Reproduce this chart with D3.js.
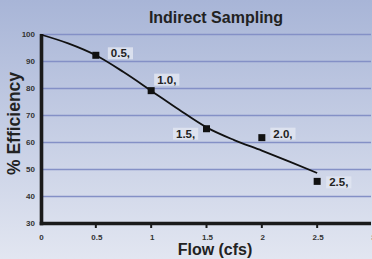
<!DOCTYPE html>
<html>
<head>
<meta charset="utf-8">
<script src="https://cdn.jsdelivr.net/npm/d3@7"></script>
<style>
  body { margin: 0; }
  svg { display: block; font-family: "Liberation Sans", Arial, sans-serif; }
</style>
</head>
<body>
<svg id="chart" width="372" height="259"></svg>
<script>
// sampled points
const flows = [0.5, 1.0, 1.5, 2.0, 2.5];
const efficiency = [92.3, 79.2, 65.1, 61.8, 45.6];
const pointLabels = ["0.5,", "1.0,", "1.5,", "2.0,", "2.5,"];

// trend curve
const curveFlow = [0, 0.25, 0.5, 0.75, 1, 1.25, 1.5, 1.75, 2, 2.25, 2.5];
const curveEff = [100, 96.7, 92.3, 86.1, 79.2, 72.2, 65.6, 60.9, 57, 52.9, 48.7];

const xTicks = [0, 0.5, 1, 1.5, 2, 2.5, 3];
const yTicks = [30, 40, 50, 60, 70, 80, 90, 100];

// label offsets from the marker (dx, dy of text baseline)
const labelOffsets = [[15, 2], [6, -7], [-30.5, 9], [11.5, 0], [12, 5]];

const width = 372, height = 259;
const svg = d3.select("#chart");

const defs = svg.append("defs");
const grad = defs.append("linearGradient")
  .attr("id", "bg").attr("x1", 0).attr("y1", 0).attr("x2", 0).attr("y2", 1);
grad.append("stop").attr("offset", "0%").attr("stop-color", "#a8b5d7");
grad.append("stop").attr("offset", "100%").attr("stop-color", "#e2e6f1");

svg.append("rect").attr("width", width).attr("height", height).attr("fill", "url(#bg)");

const x = d3.scaleLinear().domain([0, 3]).range([40.5, 372.5]);
const y = d3.scaleLinear().domain([30, 100]).range([223.5, 34.5]);

// gridlines
svg.append("g")
  .selectAll("line")
  .data(yTicks.filter(d => d > 30))
  .join("line")
  .attr("x1", x(0) + 2).attr("x2", 371)
  .attr("y1", d => y(d)).attr("y2", d => y(d))
  .attr("stroke", "#8490c6")
  .attr("stroke-width", 1.6);

// y tick labels
svg.append("g")
  .selectAll("text")
  .data(yTicks)
  .join("text")
  .attr("x", 35)
  .attr("y", d => y(d) + 2.5)
  .attr("text-anchor", "end")
  .attr("font-size", 8)
  .attr("font-weight", "bold")
  .attr("fill", "#333")
  .text(d => d);

// x ticks + labels
const xg = svg.append("g");
xg.selectAll("line")
  .data(xTicks.filter(d => d > 0 && d < 3))
  .join("line")
  .attr("x1", d => x(d)).attr("x2", d => x(d))
  .attr("y1", y(30)).attr("y2", y(30) + 4.5)
  .attr("stroke", "#1a1a1a")
  .attr("stroke-width", 2);
xg.selectAll("text")
  .data(xTicks)
  .join("text")
  .attr("x", d => x(d) + 1)
  .attr("y", 239.5)
  .attr("text-anchor", "middle")
  .attr("font-size", 8)
  .attr("font-weight", "bold")
  .attr("fill", "#333")
  .text(d => d);

// axes lines
svg.append("line")
  .attr("x1", x(0) + 1).attr("x2", x(0) + 1)
  .attr("y1", y(100) - 0.5).attr("y2", y(30) + 1.8)
  .attr("stroke", "#1a1a1a").attr("stroke-width", 3.6);
svg.append("line")
  .attr("x1", x(0) - 0.8).attr("x2", 371)
  .attr("y1", y(30)).attr("y2", y(30))
  .attr("stroke", "#1a1a1a").attr("stroke-width", 3.6);

// trend curve
const line = d3.line()
  .x((d, i) => x(curveFlow[i]))
  .y(d => y(d))
  .curve(d3.curveMonotoneX);
svg.append("path")
  .attr("d", line(curveEff))
  .attr("fill", "none")
  .attr("stroke", "#111")
  .attr("stroke-width", 1.8);

// markers
svg.append("g")
  .selectAll("rect")
  .data(efficiency)
  .join("rect")
  .attr("x", (d, i) => x(flows[i]) - 3.5)
  .attr("y", d => y(d) - 3.5)
  .attr("width", 7).attr("height", 7)
  .attr("fill", "#111");

// data labels with light boxes
const lg = svg.append("g");
efficiency.forEach((d, i) => {
  const g = lg.append("g");
  const t = g.append("text")
    .attr("x", x(flows[i]) + labelOffsets[i][0])
    .attr("y", y(d) + labelOffsets[i][1])
    .attr("font-size", 11.5)
    .attr("font-weight", "bold")
    .attr("fill", "#222")
    .text(pointLabels[i]);
  const b = t.node().getBBox();
  g.insert("rect", "text")
    .attr("x", b.x - 3).attr("y", b.y)
    .attr("width", b.width + 6).attr("height", b.height)
    .attr("fill", "#e0e5f1").attr("opacity", 0.85);
});

// titles
svg.append("text")
  .attr("x", 216).attr("y", 23)
  .attr("text-anchor", "middle")
  .attr("font-size", 16).attr("font-weight", "bold").attr("fill", "#222")
  .text("Indirect Sampling");

svg.append("text")
  .attr("x", 215).attr("y", 255)
  .attr("text-anchor", "middle")
  .attr("font-size", 16).attr("font-weight", "bold").attr("fill", "#222")
  .text("Flow (cfs)");

svg.append("text")
  .attr("transform", "translate(20,123.5) rotate(-90)")
  .attr("text-anchor", "middle")
  .attr("font-size", 17.5).attr("font-weight", "bold").attr("fill", "#222")
  .text("% Efficiency");
</script>
</body>
</html>
